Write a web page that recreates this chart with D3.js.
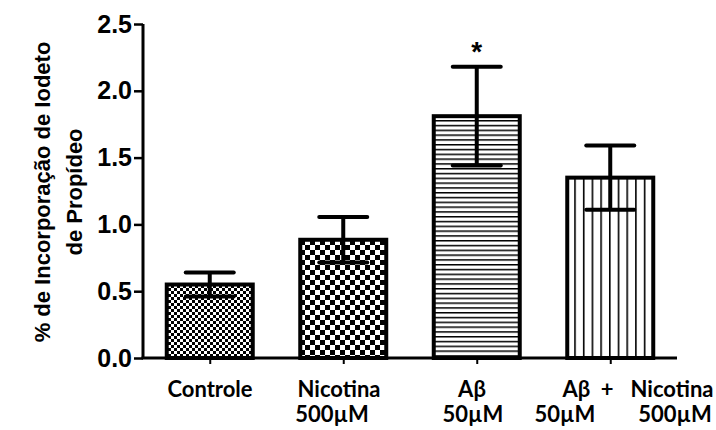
<!DOCTYPE html>
<html>
<head>
<meta charset="utf-8">
<script src="https://cdn.jsdelivr.net/npm/d3@7"></script>
<style>
  body { margin: 0; background: #fff; }
  svg { display: block; }
</style>
</head>
<body>
<script>
// values
const groups = ["Controle", "Nicotina", "Abeta", "Abeta+Nicotina"];
const means = [0.55, 0.885, 1.81, 1.35];
const sems = [0.09, 0.17, 0.37, 0.24];
const patterns = ["fineCheck", "bigCheck", "hLines", "vLines"];
const yTicks = [0, 0.5, 1.0, 1.5, 2.0, 2.5];

const width = 716;
const height = 430;

const svg = d3.select("body")
  .append("svg")
  .attr("width", width)
  .attr("height", height);

const defs = svg.append("defs");

// small checkerboard
let p = defs.append("pattern").attr("id", "fineCheck")
  .attr("patternUnits", "userSpaceOnUse").attr("width", 6).attr("height", 6);
p.append("rect").attr("width", 6).attr("height", 6).attr("fill", "#fff");
p.append("rect").attr("width", 3).attr("height", 3).attr("fill", "#000");
p.append("rect").attr("x", 3).attr("y", 3).attr("width", 3).attr("height", 3).attr("fill", "#000");

// big checkerboard
p = defs.append("pattern").attr("id", "bigCheck")
  .attr("patternUnits", "userSpaceOnUse").attr("width", 10).attr("height", 10);
p.append("rect").attr("width", 10).attr("height", 10).attr("fill", "#fff");
p.append("rect").attr("width", 5).attr("height", 5).attr("fill", "#000");
p.append("rect").attr("x", 5).attr("y", 5).attr("width", 5).attr("height", 5).attr("fill", "#000");

// horizontal lines
p = defs.append("pattern").attr("id", "hLines")
  .attr("patternUnits", "userSpaceOnUse").attr("width", 10).attr("height", 4.8);
p.append("rect").attr("width", 10).attr("height", 4.8).attr("fill", "#fff");
p.append("rect").attr("y", 0).attr("width", 10).attr("height", 1.5).attr("fill", "#000");

// vertical lines
p = defs.append("pattern").attr("id", "vLines")
  .attr("patternUnits", "userSpaceOnUse").attr("width", 8.7).attr("height", 10);
p.append("rect").attr("width", 8.7).attr("height", 10).attr("fill", "#fff");
p.append("rect").attr("x", 0).attr("width", 1.6).attr("height", 10).attr("fill", "#000");

const x = d3.scalePoint()
  .domain(groups)
  .range([143, 677])
  .padding(0.5);

const y = d3.scaleLinear()
  .domain([0, 2.5])
  .range([358, 24]);

const barW = 86;

// bars
svg.selectAll("rect.bar")
  .data(groups)
  .enter()
  .append("rect")
  .attr("class", "bar")
  .attr("x", d => x(d) - barW / 2)
  .attr("y", (d, i) => y(means[i]))
  .attr("width", barW)
  .attr("height", (d, i) => y(0) - y(means[i]))
  .attr("fill", (d, i) => "url(#" + patterns[i] + ")")
  .attr("stroke", "#000")
  .attr("stroke-width", 4);

// error bars
const capW = 24;
const err = svg.append("g").attr("stroke", "#000").attr("stroke-width", 4);
groups.forEach((g, i) => {
  const cx = x(g);
  err.append("line")
    .attr("x1", cx).attr("x2", cx)
    .attr("y1", y(means[i] + sems[i])).attr("y2", y(means[i] - sems[i]));
  err.append("line")
    .attr("x1", cx - capW).attr("x2", cx + capW)
    .attr("y1", y(means[i] + sems[i])).attr("y2", y(means[i] + sems[i]))
    .attr("stroke-linecap", "round");
  err.append("line")
    .attr("x1", cx - capW).attr("x2", cx + capW)
    .attr("y1", y(means[i] - sems[i])).attr("y2", y(means[i] - sems[i]))
    .attr("stroke-linecap", "round");
});

// significance mark
svg.append("text")
  .attr("x", x("Abeta"))
  .attr("y", y(means[2] + sems[2]) - 6)
  .attr("text-anchor", "middle")
  .attr("font-family", "Liberation Sans, Arial, sans-serif")
  .attr("font-weight", "bold")
  .attr("font-size", 28)
  .text("*");

// y axis
const yAxis = svg.append("g")
  .attr("transform", "translate(143,0)")
  .call(d3.axisLeft(y).tickValues(yTicks).tickFormat(d3.format(".1f")).tickSize(9).tickPadding(2));
yAxis.select(".domain").attr("stroke-width", 3).attr("d", "M0," + y(2.5) + "V" + y(0));
yAxis.selectAll(".tick line").attr("stroke-width", 2.5);
yAxis.selectAll(".tick text")
  .attr("font-family", "Liberation Sans, Arial, sans-serif")
  .attr("font-weight", "bold")
  .attr("font-size", 25)
  .attr("fill", "#000");

// x axis
const xAxis = svg.append("g")
  .attr("transform", "translate(0," + y(0) + ")")
  .call(d3.axisBottom(x).tickSize(6).tickFormat(""));
xAxis.select(".domain").attr("stroke-width", 3).attr("d", "M141.5,0H677");
xAxis.selectAll(".tick line").attr("stroke-width", 2);

// category labels
const labelFont = "Lato, Carlito, sans-serif";
const labels = [
  ["Controle", 210, 397],
  ["Nicotina", 339, 397],
  ["500µM", 332, 422],
  ["Aβ", 472, 397],
  ["50µM", 473, 422],
  ["Aβ  +", 588, 397],
  ["Nicotina", 672, 397],
  ["50µM", 565, 422],
  ["500µM", 675, 422]
];
labels.forEach(d => {
  svg.append("text")
    .attr("x", d[1])
    .attr("y", d[2])
    .attr("text-anchor", "middle")
    .attr("font-family", labelFont)
    .attr("font-weight", "bold")
    .attr("font-size", 22)
    .style("white-space", "pre")
    .text(d[0]);
});

// y axis title
const title = svg.append("text")
  .attr("transform", "translate(50,192) rotate(-90)")
  .attr("text-anchor", "middle")
  .attr("font-family", "Liberation Sans, Arial, sans-serif")
  .attr("font-weight", "bold")
  .attr("font-size", 22);
title.append("tspan").attr("x", 0).attr("dy", 0).text("% de Incorporação de Iodeto");
title.append("tspan").attr("x", 0).attr("dy", 32).text("de Propídeo");
</script>
</body>
</html>
